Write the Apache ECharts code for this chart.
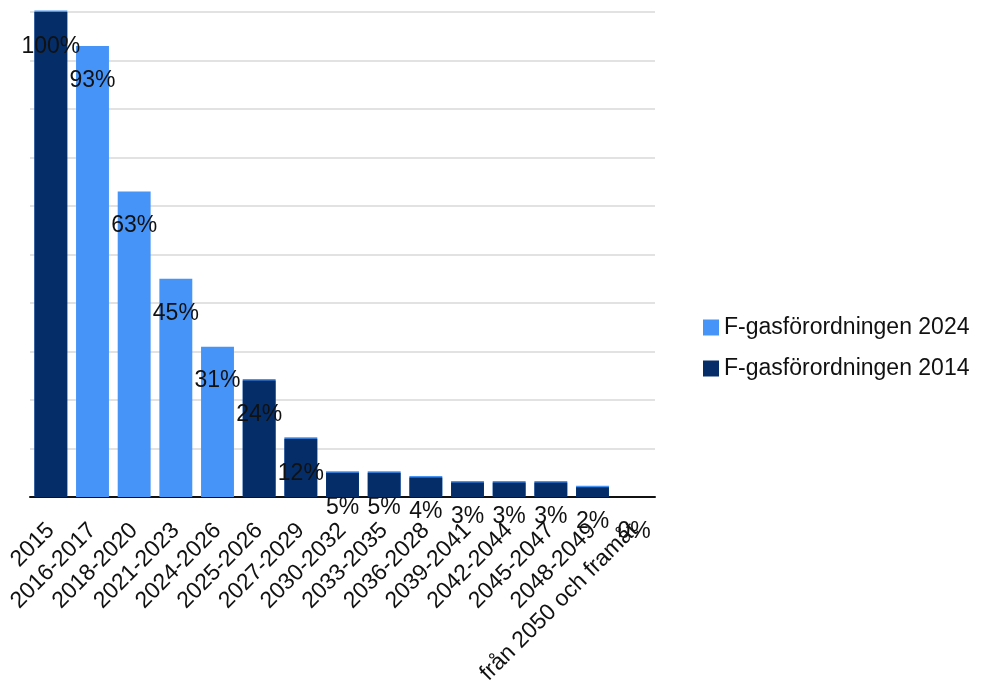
<!DOCTYPE html>
<html>
<head>
<meta charset="utf-8">
<script src="https://cdn.jsdelivr.net/npm/echarts@6/dist/echarts.min.js"></script>
<style>
  html, body { margin: 0; padding: 0; background: #ffffff; }
  #chart { width: 981px; height: 685px; }
</style>
</head>
<body>
<div id="chart"></div>
<script>
// Periods of the HFC phase-down schedule
const categories = [
  '2015', '2016-2017', '2018-2020', '2021-2023', '2024-2026', '2025-2026',
  '2027-2029', '2030-2032', '2033-2035', '2036-2028', '2039-2041',
  '2042-2044', '2045-2047', '2048-2049', 'från 2050 och framåt'
];

// Share of baseline (%) per regulation; null where the period belongs to the other one
const values2024 = [null, 93, 63, 45, 31, null, null, null, null, null, null, null, null, null, null];
const values2014 = [100, null, null, null, null, 24, 12, 5, 5, 4, 3, 3, 3, 2, 0];

const seriesNames = ['F-gasförordningen 2024', 'F-gasförordningen 2014'];
const yTicks = { min: 0, max: 100, interval: 10 };

const FONT = '"Liberation Sans", Arial, sans-serif';
const LIGHT = '#4794f8';
const DARK = '#052e69';

const labelStyle = {
  show: true,
  position: 'insideTop',
  distance: 23,
  color: '#111111',
  fontFamily: FONT,
  fontSize: 23,
  formatter: p => p.value + '%'
};

const chart = echarts.init(document.getElementById('chart'), null, { renderer: 'canvas' });
chart.setOption({
  animation: false,
  backgroundColor: '#ffffff',
  textStyle: { fontFamily: FONT },
  grid: {
    left: 30, right: 326, top: 12, bottom: 188,
    containLabel: false,
    outerBoundsMode: 'none'
  },
  legend: {
    orient: 'vertical',
    left: 703,
    top: 316,
    padding: 0,
    itemWidth: 16,
    itemHeight: 16,
    itemGap: 18,
    icon: 'rect',
    textStyle: { fontFamily: FONT, fontSize: 23, color: '#111111' },
    data: seriesNames
  },
  xAxis: {
    type: 'category',
    data: categories,
    axisLine: { show: true, lineStyle: { color: '#111111', width: 2 } },
    axisTick: { show: false },
    axisLabel: {
      rotate: 45,
      interval: 0,
      margin: 30,
      color: '#111111',
      fontFamily: FONT,
      fontSize: 23
    }
  },
  yAxis: {
    type: 'value',
    min: yTicks.min,
    max: yTicks.max,
    interval: yTicks.interval,
    axisLabel: { show: false },
    axisLine: { show: false },
    axisTick: { show: false },
    splitLine: { lineStyle: { color: '#d9d9d9', width: 1.5 } }
  },
  series: [
    {
      name: seriesNames[0],
      type: 'bar',
      stack: 'total',
      barCategoryGap: '21%',
      data: values2024,
      itemStyle: { color: LIGHT },
      label: labelStyle
    },
    {
      name: seriesNames[1],
      type: 'bar',
      stack: 'total',
      barCategoryGap: '21%',
      data: values2014,
      itemStyle: {
        color: DARK,
        shadowColor: LIGHT,
        shadowBlur: 0,
        shadowOffsetX: 0,
        shadowOffsetY: -1.5
      },
      label: labelStyle
    }
  ]
});
</script>
</body>
</html>
